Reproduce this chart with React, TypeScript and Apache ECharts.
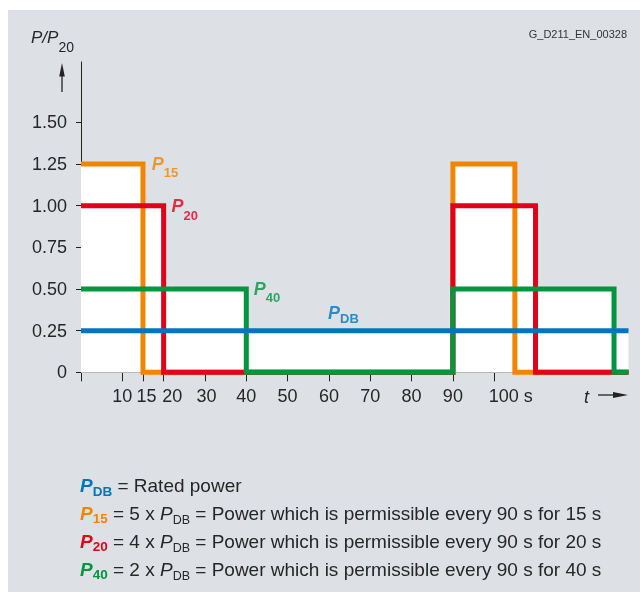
import React, { useEffect, useRef } from "react";
import * as echarts from "echarts";

// ---------- data ----------
const tP15 = [0, 15, 90, 105, 132.5];
const vP15 = [1.25, 0, 1.25, 0, 0];
const tP20 = [0, 20, 90, 110, 132.5];
const vP20 = [1, 0, 1, 0, 0];
const tP40 = [0, 40, 90, 129, 132.5];
const vP40 = [0.5, 0, 0.5, 0, 0];
const tPDB = [0, 132.5];
const vPDB = [0.25, 0.25];

const yTickValues = [0, 0.25, 0.5, 0.75, 1, 1.25, 1.5];
const xTickValues = [0, 10, 15, 20, 30, 40, 50, 60, 70, 80, 90, 100];
const xLabelValues = [10, 15, 20, 30, 40, 50, 60, 70, 80, 90, 100];

const curveSubs = ["15", "20", "40", "DB"];
const labelT = [17.1, 21.9, 41.8, 59.8];
const labelV = [1.25, 1.0, 0.5, 0.357];

const legendSubs = ["DB", "15", "20", "40"];
const legendFactors = [5, 4, 2];
const legendDurations = [15, 20, 40];
const figureId = "G_D211_EN_00328";

// ---------- styles ----------
const FONT = "'Liberation Sans', Arial, Helvetica, sans-serif";
const INK = "#262626";
const BG = "#dde1e5";
const OR = "#f28500";
const RED = "#e2001a";
const GRN = "#009640";
const BLU = "#0075bf";

const pairs = (t: number[], v: number[]) => t.map((x, i) => [x, v[i]]);

const curves = [
  { t: tP15, v: vP15, color: OR },
  { t: tP20, v: vP20, color: RED },
  { t: tP40, v: vP40, color: GRN },
  { t: tPDB, v: vPDB, color: BLU },
];
const curveColors = [OR, RED, GRN, BLU];
const legendColors = [BLU, OR, RED, GRN];
const curveSubShift = [18, 19, 18, 12];

export default function App() {
  const ref = useRef<HTMLDivElement>(null);

  useEffect(() => {
    if (!ref.current) return;
    const chart = echarts.init(ref.current, undefined, { renderer: "svg" });

    const areaSeries = curves.map((c) => ({
      type: "line",
      data: pairs(c.t, c.v),
      step: "end",
      symbol: "none",
      showSymbol: false,
      lineStyle: { width: 0, opacity: 0 },
      areaStyle: { color: "#ffffff", opacity: 1 },
      z: 1,
      silent: true,
      clip: false,
    }));

    const lineSeries = curves.map((c) => ({
      type: "line",
      data: pairs(c.t, c.v),
      step: "end",
      symbol: "none",
      showSymbol: false,
      lineStyle: { width: 5, color: c.color, cap: "butt", join: "miter" },
      z: 3,
      silent: true,
      clip: false,
    }));

    const labelRich: any = {};
    curveColors.forEach((col, i) => {
      labelRich["p" + i] = {
        color: col,
        fontSize: 18,
        fontWeight: "bold",
        fontStyle: "italic",
        fontFamily: FONT,
        lineHeight: 40,
      };
      labelRich["s" + i] = {
        color: col,
        fontSize: 13,
        fontWeight: "bold",
        fontFamily: FONT,
        lineHeight: 40,
        padding: [curveSubShift[i], 0, 0, 0],
      };
    });

    const labelSeries = {
      type: "scatter",
      data: labelT.map((t, i) => [t, labelV[i]]),
      symbolSize: 0,
      silent: true,
      z: 5,
      label: {
        show: true,
        position: "right",
        distance: 0,
        formatter: (p: any) => `{p${p.dataIndex}|P}{s${p.dataIndex}|${curveSubs[p.dataIndex]}}`,
        rich: labelRich,
      },
    };

    const legendText = legendSubs.map((sub, i) => {
      if (i === 0) return `{p|P}{s|${sub}}{t| = Rated power}`;
      return `{p|P}{s|${sub}}{t| = ${legendFactors[i - 1]} x }{q|P}{d|DB}{t| = Power which is permissible every 90 s for ${legendDurations[i - 1]} s}`;
    });
    const legendY = [485, 513, 541, 569];

    const legendGraphics = legendText.map((txt, i) => ({
      type: "text",
      x: 80,
      y: legendY[i],
      silent: true,
      style: {
        text: txt,
        align: "left",
        verticalAlign: "middle",
        fill: INK,
        fontSize: 19,
        fontFamily: FONT,
        rich: {
          p: { fill: legendColors[i], fontSize: 19, fontWeight: "bold", fontStyle: "italic", fontFamily: FONT, lineHeight: 34 },
          s: { fill: legendColors[i], fontSize: 13.5, fontWeight: "bold", fontFamily: FONT, lineHeight: 34, padding: [i === 0 ? 12 : 10, 0, 0, 0] },
          t: { fill: INK, fontSize: 19, fontFamily: FONT, lineHeight: 34 },
          q: { fill: INK, fontSize: 19, fontStyle: "italic", fontFamily: FONT, lineHeight: 34 },
          d: { fill: INK, fontSize: 12.5, fontFamily: FONT, lineHeight: 34, padding: [14, 0, 0, 0] },
        },
      },
    }));

    const xRich: any = {
      a15: { padding: [0, 0, 0, 7], fontSize: 18, color: INK, fontFamily: FONT },
      a20: { padding: [0, 0, 0, 17], fontSize: 18, color: INK, fontFamily: FONT },
      a30: { padding: [0, 0, 0, 3], fontSize: 18, color: INK, fontFamily: FONT },
      a100: { padding: [0, 0, 0, 33], fontSize: 18, color: INK, fontFamily: FONT },
    };

    const option: any = {
      animation: false,
      textStyle: { fontFamily: FONT },
      grid: { left: 81, top: 62, right: 11.5, bottom: 219.7, outerBoundsMode: "none", containLabel: false },
      xAxis: {
        type: "value",
        min: 0,
        max: 132.5,
        splitLine: { show: false },
        axisLine: { show: true, lineStyle: { color: "#222", width: 1 } },
        axisTick: { show: true, length: 9, lineStyle: { color: "#222", width: 1 }, customValues: xTickValues },
        axisLabel: {
          show: true,
          customValues: xLabelValues,
          margin: 15,
          fontSize: 18,
          color: INK,
          fontFamily: FONT,
          hideOverlap: false,
          formatter: (v: number) => {
            if (v === 15) return "{a15|15}";
            if (v === 20) return "{a20|20}";
            if (v === 30) return "{a30|30}";
            if (v === 100) return "{a100|100 s}";
            return String(v);
          },
          rich: xRich,
        },
      },
      yAxis: {
        type: "value",
        min: 0,
        max: 1.862,
        splitLine: { show: false },
        axisLine: { show: true, lineStyle: { color: "#222", width: 1 } },
        axisTick: { show: true, length: 5, lineStyle: { color: "#222", width: 1 }, customValues: yTickValues },
        axisLabel: {
          show: true,
          customValues: yTickValues,
          margin: 14,
          fontSize: 18,
          color: INK,
          fontFamily: FONT,
          formatter: (v: number) => (v === 0 ? "0" : v.toFixed(2)),
        },
      },
      graphic: [
        {
          type: "rect",
          z: -100,
          silent: true,
          shape: { x: 8, y: 10, width: 632, height: 582 },
          style: { fill: BG },
        },
        {
          type: "text",
          x: 31,
          y: 37,
          silent: true,
          style: {
            text: "{pi|P/P}{s|20}",
            align: "left",
            verticalAlign: "middle",
            rich: {
              pi: { fill: INK, fontSize: 17, fontStyle: "italic", fontFamily: FONT, lineHeight: 40 },
              s: { fill: INK, fontSize: 14, fontFamily: FONT, lineHeight: 40, padding: [19, 0, 0, 0] },
            },
          },
        },
        {
          type: "text",
          x: 627,
          y: 34,
          silent: true,
          style: { text: figureId, align: "right", verticalAlign: "middle", fill: "#333", fontSize: 11, fontFamily: FONT },
        },
        {
          type: "line",
          silent: true,
          shape: { x1: 62, y1: 92, x2: 62, y2: 72 },
          style: { stroke: "#222", lineWidth: 1.3 },
        },
        {
          type: "polygon",
          silent: true,
          shape: { points: [[62, 63], [59.2, 76.5], [64.8, 76.5]] },
          style: { fill: "#222" },
        },
        {
          type: "text",
          x: 584,
          y: 396.5,
          silent: true,
          style: { text: "t", align: "left", verticalAlign: "middle", fill: INK, fontSize: 18, fontStyle: "italic", fontFamily: FONT },
        },
        {
          type: "line",
          silent: true,
          shape: { x1: 598, y1: 395, x2: 615, y2: 395 },
          style: { stroke: "#222", lineWidth: 1.3 },
        },
        {
          type: "polygon",
          silent: true,
          shape: { points: [[628, 395], [613, 392], [613, 398]] },
          style: { fill: "#222" },
        },
        ...legendGraphics,
      ],
      series: [...areaSeries, ...lineSeries, labelSeries],
    };

    chart.setOption(option);
    return () => chart.dispose();
  }, []);

  return (
    <div
      ref={ref}
      style={{ position: "fixed", left: 0, top: 0, width: 640, height: 592 }}
    />
  );
}
